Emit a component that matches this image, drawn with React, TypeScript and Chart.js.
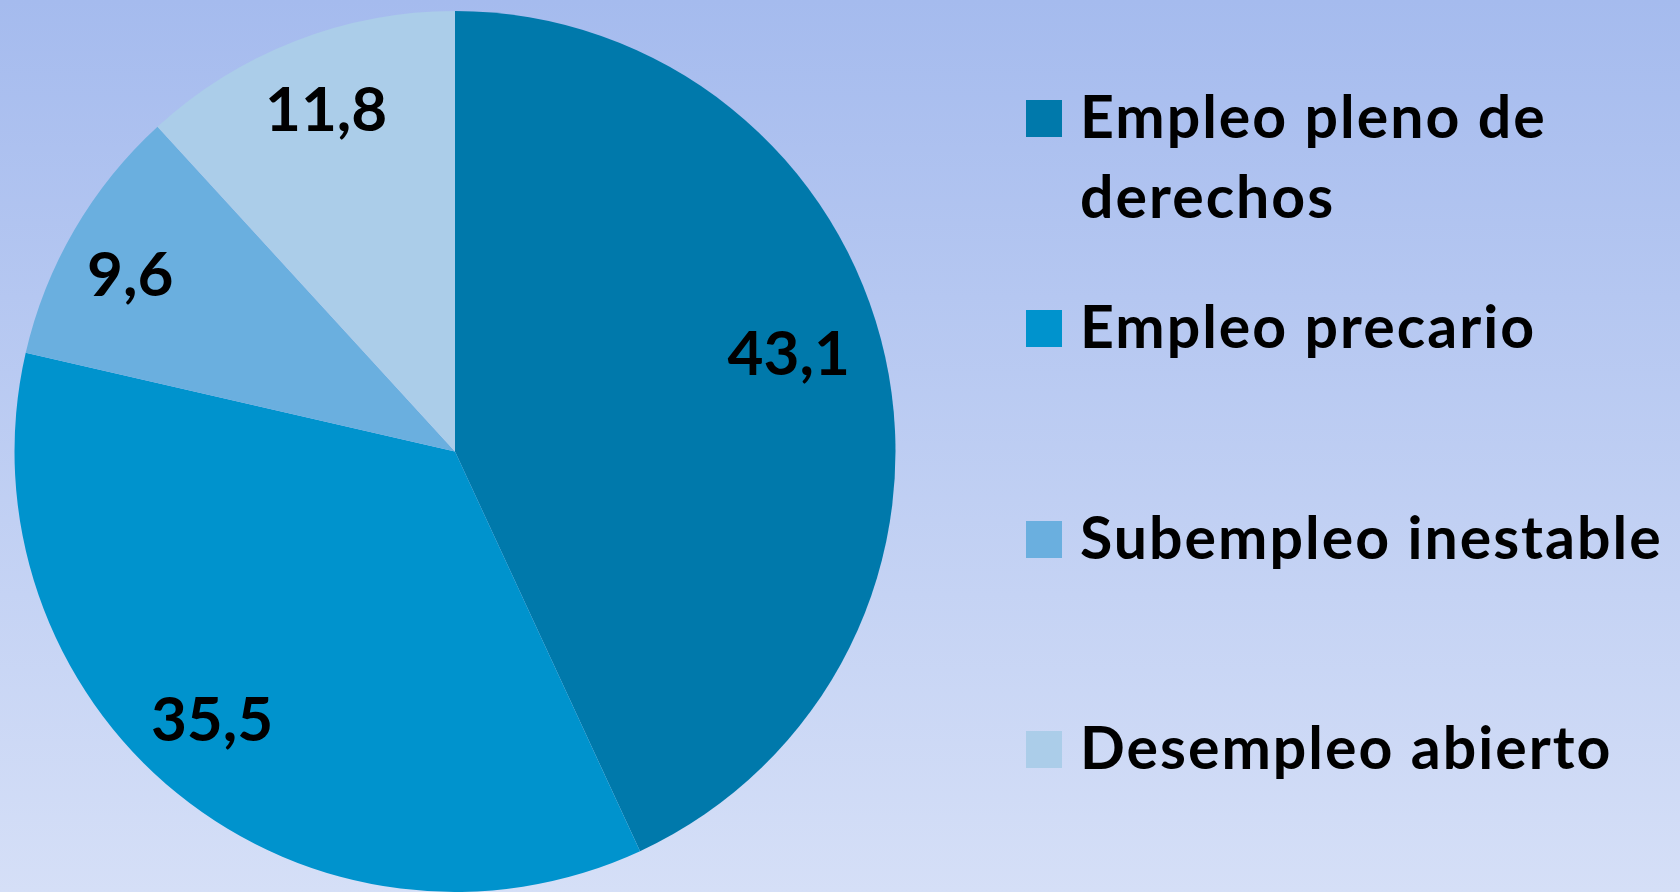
import React, { useEffect, useRef } from "react";
import { Chart, registerables } from "chart.js";

Chart.register(...registerables);

// ---- data ----
const categories = [
  "Empleo pleno de derechos",
  "Empleo precario",
  "Subempleo inestable",
  "Desempleo abierto",
];
const legendLines = [
  ["Empleo pleno de", "derechos"],
  ["Empleo precario"],
  ["Subempleo inestable"],
  ["Desempleo abierto"],
];
const values = [43.1, 35.5, 9.6, 11.8];
const valueLabels = ["43,1", "35,5", "9,6", "11,8"];

// ---- style ----
const colors = ["#0079ab", "#0093cd", "#6aafdf", "#abcde9"];
const labelRadius = [0.79, 0.82, 0.84, 0.83];
const labelAngleShiftDeg = [-4, 3.2, -1.6, 0.6];
const FONT = "Lato, 'Open Sans', sans-serif";

const valueLabelPlugin = {
  id: "valueLabels",
  afterDatasetsDraw(chart: any) {
    const ctx = chart.ctx;
    const meta = chart.getDatasetMeta(0);
    ctx.save();
    ctx.font = `bold 62px ${FONT}`;
    ctx.fillStyle = "#000";
    ctx.textAlign = "center";
    ctx.textBaseline = "alphabetic";
    meta.data.forEach((arc: any, i: number) => {
      const p = arc.getProps(["x", "y", "startAngle", "endAngle", "outerRadius"], true);
      const mid = (p.startAngle + p.endAngle) / 2 + (labelAngleShiftDeg[i] * Math.PI) / 180;
      const r = p.outerRadius * labelRadius[i];
      const cx = p.x + Math.cos(mid) * r;
      const cy = p.y + Math.sin(mid) * r;
      ctx.fillText(valueLabels[i], cx, cy + 22);
    });
    ctx.restore();
  },
};

export default function App() {
  const ref = useRef<HTMLCanvasElement>(null);

  useEffect(() => {
    document.body.style.margin = "0";
    const chart = new Chart(ref.current as HTMLCanvasElement, {
      type: "pie",
      data: {
        labels: categories,
        datasets: [
          {
            data: values,
            backgroundColor: colors,
            borderWidth: 0,
            hoverOffset: 0,
            offset: 0,
          },
        ],
      },
      options: {
        responsive: false,
        animation: false,
        layout: { padding: { top: 11, bottom: 0, left: 14, right: 14 } },
        plugins: {
          legend: { display: false },
          tooltip: { enabled: false },
        },
      },
      plugins: [valueLabelPlugin],
    } as any);
    return () => chart.destroy();
  }, []);

  return (
    <div
      style={{
        position: "relative",
        width: 1680,
        height: 892,
        overflow: "hidden",
        background: "linear-gradient(180deg, #a5bbee 0%, #d5dff7 100%)",
      }}
    >
      <canvas
        ref={ref}
        width={910}
        height={892}
        style={{ position: "absolute", left: 0, top: 0 }}
      />
      <div style={{ position: "absolute", left: 1026, top: 100 }}>
        {legendLines.map((lines, i) => (
          <div key={i} style={{ position: "absolute", left: 0, top: i * 210.3 }}>
            <div
              style={{
                position: "absolute",
                left: 0,
                top: 0,
                width: 36,
                height: 37,
                background: colors[i],
              }}
            />
            <div
              style={{
                position: "absolute",
                left: 54,
                top: -24,
                fontFamily: FONT,
                fontWeight: 700,
                fontSize: 59,
                letterSpacing: "2px",
                lineHeight: "80px",
                whiteSpace: "nowrap",
                color: "#000",
              }}
            >
              {lines.map((l, j) => (
                <div key={j}>{l}</div>
              ))}
            </div>
          </div>
        ))}
      </div>
    </div>
  );
}
